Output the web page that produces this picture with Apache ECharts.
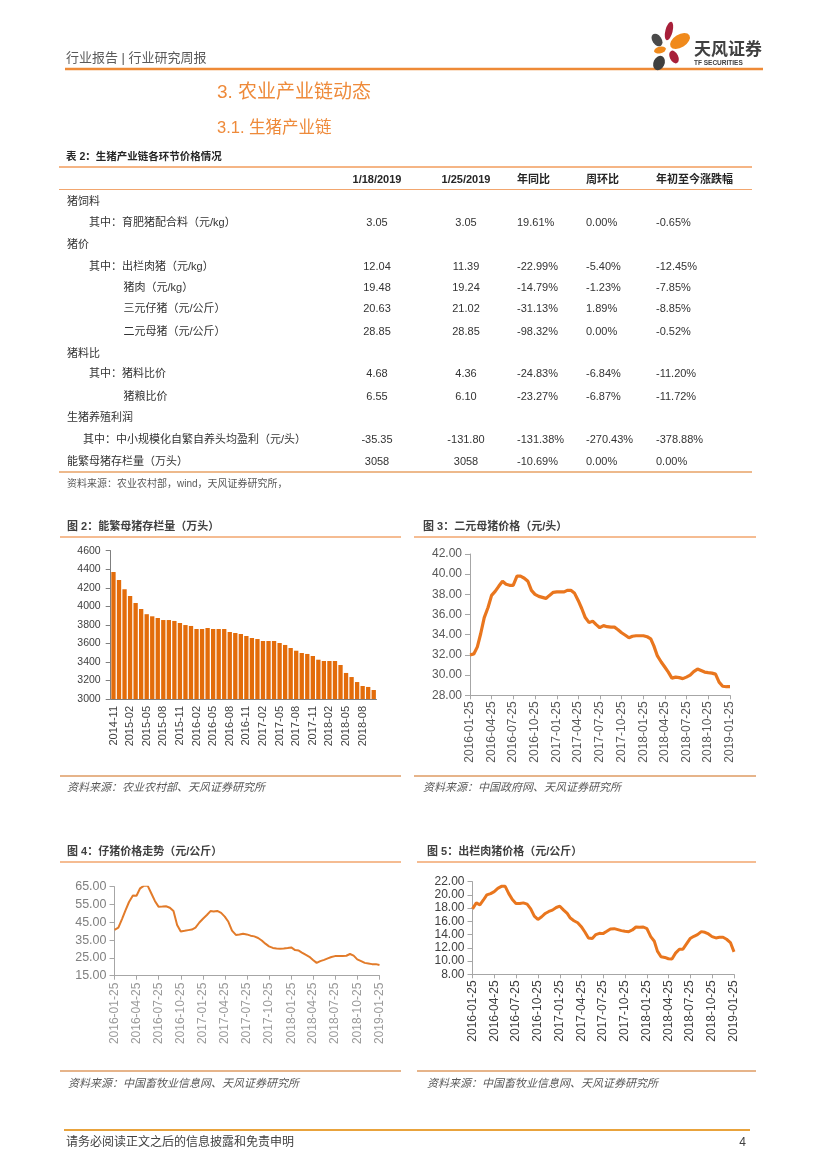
<!DOCTYPE html>
<html><head><meta charset="utf-8">
<script src="https://cdn.jsdelivr.net/npm/echarts@6.0.0/dist/echarts.min.js"></script>
<style>html,body{margin:0;padding:0;background:#fff}#page{width:827px;height:1169px}</style>
</head><body><div id="page"></div>
<script>
// ---------- DATA ----------
const sowMonths = ['2014-11','2014-12','2015-01','2015-02','2015-03','2015-04','2015-05','2015-06','2015-07','2015-08','2015-09','2015-10','2015-11','2015-12',
'2016-01','2016-02','2016-03','2016-04','2016-05','2016-06','2016-07','2016-08','2016-09','2016-10','2016-11','2016-12',
'2017-01','2017-02','2017-03','2017-04','2017-05','2017-06','2017-07','2017-08','2017-09','2017-10','2017-11','2017-12',
'2018-01','2018-02','2018-03','2018-04','2018-05','2018-06','2018-07','2018-08','2018-09','2018-10'];
const sowStock = [4370,4284,4184,4111,4036,3971,3915,3892,3874,3852,3852,3842,3820,3798,3788,3755,3755,3766,3755,3755,3755,3723,3712,3701,3680,3658,3647,3626,3626,3626,3604,3583,3550,3521,3496,3486,3464,3424,3410,3410,3410,3367,3281,3237,3183,3140,3130,3097];

const priceDates = ['2016-01-25','2016-02-10','2016-02-25','2016-03-10','2016-03-25','2016-04-10','2016-04-25','2016-05-10','2016-05-25','2016-06-10','2016-06-25','2016-07-10','2016-07-25','2016-08-10','2016-08-25','2016-09-10','2016-09-25','2016-10-10','2016-10-25','2016-11-10','2016-11-25','2016-12-10','2016-12-25',
'2017-01-10','2017-01-25','2017-02-10','2017-02-25','2017-03-10','2017-03-25','2017-04-10','2017-04-25','2017-05-10','2017-05-25','2017-06-10','2017-06-25','2017-07-10','2017-07-25','2017-08-10','2017-08-25','2017-09-10','2017-09-25','2017-10-10','2017-10-25','2017-11-10','2017-11-25','2017-12-10','2017-12-25',
'2018-01-10','2018-01-25','2018-02-10','2018-02-25','2018-03-10','2018-03-25','2018-04-10','2018-04-25','2018-05-10','2018-05-25','2018-06-10','2018-06-25','2018-07-10','2018-07-25','2018-08-10','2018-08-25','2018-09-10','2018-09-25','2018-10-10','2018-10-25','2018-11-10','2018-11-25','2018-12-10','2018-12-25',
'2019-01-10','2019-01-25'];
const sowPrice = [32.0,32.1,32.8,34.1,35.7,36.7,37.9,38.3,38.8,39.3,
39.0,38.9,38.9,39.8,39.8,39.6,39.3,38.4,38.0,37.8,
37.7,37.6,37.9,38.2,38.25,38.25,38.25,38.4,38.4,38.1,
37.4,36.6,35.7,35.2,35.35,35.0,34.7,34.9,34.8,34.75,
34.75,34.5,34.2,33.95,33.7,33.85,33.9,33.9,33.9,33.8,
33.6,32.9,31.9,31.3,30.8,30.3,29.7,29.8,29.75,29.65,
29.8,30.0,30.35,30.6,30.45,30.3,30.25,30.2,30.1,29.3,
28.9,28.85,28.85];
const pigletPrice = [40.7,42.0,46.8,51.5,56.4,60.0,59.9,64.1,65.5,65.6,
61.3,57.0,53.8,53.9,54.0,53.2,51.3,43.5,39.8,40.2,
40.6,40.9,42.0,44.9,47.0,49.1,51.3,51.1,51.4,50.3,
48.2,45.3,40.3,37.9,38.1,38.6,38.2,37.5,37.1,36.2,
34.8,33.0,31.5,30.6,30.3,30.2,30.3,30.6,30.9,29.4,
29.1,28.0,26.8,25.6,23.8,22.2,23.2,23.9,24.7,25.5,
26.0,26.1,26.1,26.2,27.2,26.3,24.2,23.2,22.2,21.9,
21.5,21.5,21.02];
const hogPrice = [17.9,18.8,18.5,19.2,20.0,20.2,20.5,21.0,21.3,21.3,
20.2,19.3,18.7,18.7,18.8,18.6,17.9,16.8,16.3,16.7,
17.2,17.5,17.7,18.1,18.3,17.7,17.2,16.5,16.1,15.8,
15.2,14.4,13.5,13.4,14.0,14.2,14.15,14.5,14.85,14.9,
14.75,14.6,14.5,14.45,14.7,15.15,15.1,15.15,14.9,13.7,
13.0,11.5,10.65,10.55,10.35,10.3,11.2,11.8,11.8,12.6,
13.4,13.75,14.0,14.45,14.35,14.1,13.7,13.5,13.6,13.6,
13.3,12.8,11.39];
const dateTicks = ['2016-01-25','2016-04-25','2016-07-25','2016-10-25','2017-01-25','2017-04-25','2017-07-25','2017-10-25','2018-01-25','2018-04-25','2018-07-25','2018-10-25','2019-01-25'];
const pigletTicks = [15,25,35,45,55,65];

// table
const tableHeader = ['1/18/2019','1/25/2019','年同比','周环比','年初至今涨跌幅'];
const rowLabels = ['猪饲料','其中：育肥猪配合料（元/kg）','猪价','其中：出栏肉猪（元/kg）','猪肉（元/kg）','三元仔猪（元/公斤）','二元母猪（元/公斤）','猪料比','其中：猪料比价','猪粮比价','生猪养殖利润','其中：中小规模化自繁自养头均盈利（元/头）','能繁母猪存栏量（万头）'];
const rowLevels = [0,1,0,1,2,2,2,0,1,2,0,3,0];
const colPrev = ['','3.05','','12.04','19.48','20.63','28.85','','4.68','6.55','','-35.35','3058'];
const colCurr = ['','3.05','','11.39','19.24','21.02','28.85','','4.36','6.10','','-131.80','3058'];
const colYoY  = ['','19.61%','','-22.99%','-14.79%','-31.13%','-98.32%','','-24.83%','-23.27%','','-131.38%','-10.69%'];
const colWoW  = ['','0.00%','','-5.40%','-1.23%','1.89%','0.00%','','-6.84%','-6.87%','','-270.43%','0.00%'];
const colYtd  = ['','-0.65%','','-12.45%','-7.85%','-8.85%','-0.52%','','-11.20%','-11.72%','','-378.88%','0.00%'];

// ---------- RENDER ----------
const FF = '"Liberation Sans","Noto Sans CJK SC",sans-serif';
const chart = echarts.init(document.getElementById('page'), null, {renderer:'canvas', width:827, height:1169});
const g = [];
function T(x, y, text, size, color, opts) {
  opts = opts || {};
  const font = (opts.italic ? 'italic ' : '') + (opts.bold ? 'bold ' : '') + size + 'px ' + FF;
  g.push({type:'text', x:x, y:y, silent:true, style:{text:text, font:font, fill:color,
    align:opts.align||'left', verticalAlign:'middle', textAlign:opts.align||'left', textVerticalAlign:'middle'}});
}
function L(x1, y1, x2, y2, color, w) {
  g.push({type:'line', silent:true, shape:{x1:x1,y1:y1,x2:x2,y2:y2}, style:{stroke:color, lineWidth:w}});
}
function petal(cx, cy, rx, ry, rot, color) {
  g.push({type:'circle', silent:true, x:cx, y:cy, scaleX:rx, scaleY:ry, rotation:rot, shape:{cx:0,cy:0,r:1}, style:{fill:color}});
}
// header
T(66, 58, '行业报告 | 行业研究周报', 13, '#595959');
L(65, 69, 763, 69, '#EE8A36', 2.5);
petal(669, 31, 3.6, 9.5, -0.25, '#A8203A');
petal(680, 41, 11, 6.5, 0.55, '#F08A1C');
petal(657, 40, 4.6, 7, 0.6, '#4A4A4A');
petal(660, 50, 6, 3.3, 0.25, '#F08A1C');
petal(674, 57, 4.2, 6.8, 0.45, '#A8203A');
petal(659, 63, 5.5, 7.5, -0.45, '#3F3F3F');
T(694, 50, '天风证券', 17, '#404040', {bold:true});
T(694, 63.5, 'TF SECURITIES', 6.5, '#404040', {bold:true});
T(217, 93, '3. 农业产业链动态', 19, '#EE8A3A');
T(217, 128, '3.1. 生猪产业链', 16.5, '#EE8A3A');

// table
T(66, 157, '表 2：生猪产业链各环节价格情况', 10.5, '#262626', {bold:true});
L(59, 167, 752, 167, '#F5B585', 2);
const hdrX = [377, 466, 517, 586, 656];
const hdrAlign = ['center','center','left','left','left'];
tableHeader.forEach((h,i) => T(hdrX[i], 179.5, h, 11, '#262626', {bold:true, align:hdrAlign[i]}));
L(59, 189.5, 752, 189.5, '#F2A66E', 1.2);
const rowY = [201.7,222.7,245,266.7,288.3,309.3,331.7,354.3,374.3,396.7,418.3,440,461.7];
const levelX = [67, 89, 123.5, 83];
rowLabels.forEach((lab,i) => {
  const y = rowY[i];
  T(levelX[rowLevels[i]], y, lab, 11, '#333333');
  if (colPrev[i]) {
    T(377, y, colPrev[i], 11, '#333333', {align:'center'});
    T(466, y, colCurr[i], 11, '#333333', {align:'center'});
    T(517, y, colYoY[i], 11, '#333333');
    T(586, y, colWoW[i], 11, '#333333');
    T(656, y, colYtd[i], 11, '#333333');
  }
});
L(59, 472, 752, 472, '#EDB98C', 2);
T(67, 484, '资料来源：农业农村部，wind，天风证券研究所，', 10, '#595959');

// chart frames
T(67, 527, '图 2：能繁母猪存栏量（万头）', 11, '#404040', {bold:true});
T(423, 527, '图 3：二元母猪价格（元/头）', 11, '#404040', {bold:true});
L(60, 537, 401, 537, '#F2A66E', 1.3);
L(414, 537, 756, 537, '#F2A66E', 1.3);
L(60, 776, 401, 776, '#E6B48A', 2);
L(414, 776, 756, 776, '#E6B48A', 2);
T(67, 787.5, '资料来源：农业农村部、天风证券研究所', 11, '#595959', {italic:true});
T(423, 787.5, '资料来源：中国政府网、天风证券研究所', 11, '#595959', {italic:true});

T(67, 852, '图 4：仔猪价格走势（元/公斤）', 11, '#404040', {bold:true});
T(427, 852, '图 5：出栏肉猪价格（元/公斤）', 11, '#404040', {bold:true});
L(60, 862, 401, 862, '#F2A66E', 1.3);
L(417, 862, 756, 862, '#F2A66E', 1.3);
L(60, 1071, 401, 1071, '#E6B48A', 2);
L(417, 1071, 756, 1071, '#E6B48A', 2);
T(68, 1084, '资料来源：中国畜牧业信息网、天风证券研究所', 11, '#595959', {italic:true});
T(427, 1084, '资料来源：中国畜牧业信息网、天风证券研究所', 11, '#595959', {italic:true});

// footer
L(64, 1130, 750, 1130, '#E9A33C', 2);
T(66, 1143, '请务必阅读正文之后的信息披露和免责申明', 12, '#404040');
T(746, 1143, '4', 12, '#404040', {align:'right'});

// dates -> timestamps (UTC) for a numeric date axis
const tParse = s => Date.parse(s + 'T00:00:00Z');
const tickTs = dateTicks.map(tParse);
const pad = n => (n < 10 ? '0' : '') + n;
const dateFmt = v => { const d = new Date(v); return d.getUTCFullYear() + '-' + pad(d.getUTCMonth()+1) + '-' + pad(d.getUTCDate()); };

function dateX(gi, color, size, margin) {
  return {type:'value', gridIndex:gi, min:tickTs[0], max:tickTs[tickTs.length-1],
    axisLine:{show:true, onZero:false, lineStyle:{color:'#A6A6A6', width:1}},
    axisTick:{show:true, length:4, customValues:tickTs, lineStyle:{color:'#A6A6A6'}},
    splitLine:{show:false},
    axisLabel:{customValues:tickTs, formatter:dateFmt, rotate:90, fontSize:size, color:color, margin:margin, fontFamily:FF, hideOverlap:false}};
}
function valY(gi, min, max, interval, color, size, digits, custom) {
  const y = {type:'value', gridIndex:gi, min:min, max:max,
    axisLine:{show:true, lineStyle:{color:'#A6A6A6'}},
    axisTick:{show:true, length:5, lineStyle:{color:'#A6A6A6'}},
    splitLine:{show:false},
    axisLabel:{fontSize:size, color:color, margin:8, fontFamily:FF, formatter: v => digits ? Number(v).toFixed(digits) : String(v)}};
  if (custom) { y.axisLabel.customValues = custom; y.axisTick.customValues = custom; }
  else y.interval = interval;
  return y;
}
const y0 = valY(0, 3000, 4600, 200, '#404040', 10.5, 0);
y0.axisLine.lineStyle.color = '#7F7F7F'; y0.axisTick.lineStyle.color = '#7F7F7F'; y0.axisLabel.margin = 10;

const series = (vals) => priceDates.map((d,i)=>[tParse(d), vals[i]]);

const option = {
  animation:false,
  backgroundColor:'#ffffff',
  textStyle:{fontFamily:FF},
  graphic:g,
  grid:[
    {left:110.7, top:550.7, width:265.8, height:148.3},
    {left:470, top:554, width:260, height:141.3},
    {left:114.5, top:886.7, width:265, height:89},
    {left:472.5, top:881.7, width:261.5, height:92.6}
  ],
  xAxis:[
    {type:'category', gridIndex:0, data:sowMonths,
      axisLine:{lineStyle:{color:'#7F7F7F'}},
      axisTick:{alignWithLabel:true, interval:2, length:4, lineStyle:{color:'#7F7F7F'}},
      axisLabel:{interval:2, rotate:90, fontSize:11, color:'#404040', margin:7, fontFamily:FF}},
    dateX(1, '#595959', 12, 6),
    dateX(2, '#9A9A9A', 12, 7),
    dateX(3, '#404040', 12, 6)
  ],
  yAxis:[
    y0,
    valY(1, 28, 42, 2, '#595959', 12, 2),
    valY(2, 15, 65, 10, '#808080', 12.5, 2, pigletTicks),
    valY(3, 8, 22, 2, '#404040', 12, 2)
  ],
  series:[
    {type:'bar', xAxisIndex:0, yAxisIndex:0, data:sowStock, barCategoryGap:'22%', itemStyle:{color:'#E36C0A'}},
    {type:'line', xAxisIndex:1, yAxisIndex:1, data:series(sowPrice), showSymbol:false, symbol:'none', lineStyle:{color:'#E9761E', width:3.2}},
    {type:'line', xAxisIndex:2, yAxisIndex:2, data:series(pigletPrice), showSymbol:false, symbol:'none', lineStyle:{color:'#E27B2A', width:2}},
    {type:'line', xAxisIndex:3, yAxisIndex:3, data:series(hogPrice), showSymbol:false, symbol:'none', lineStyle:{color:'#E9761E', width:3}}
  ]
};
chart.setOption(option);
</script>
</body></html>
